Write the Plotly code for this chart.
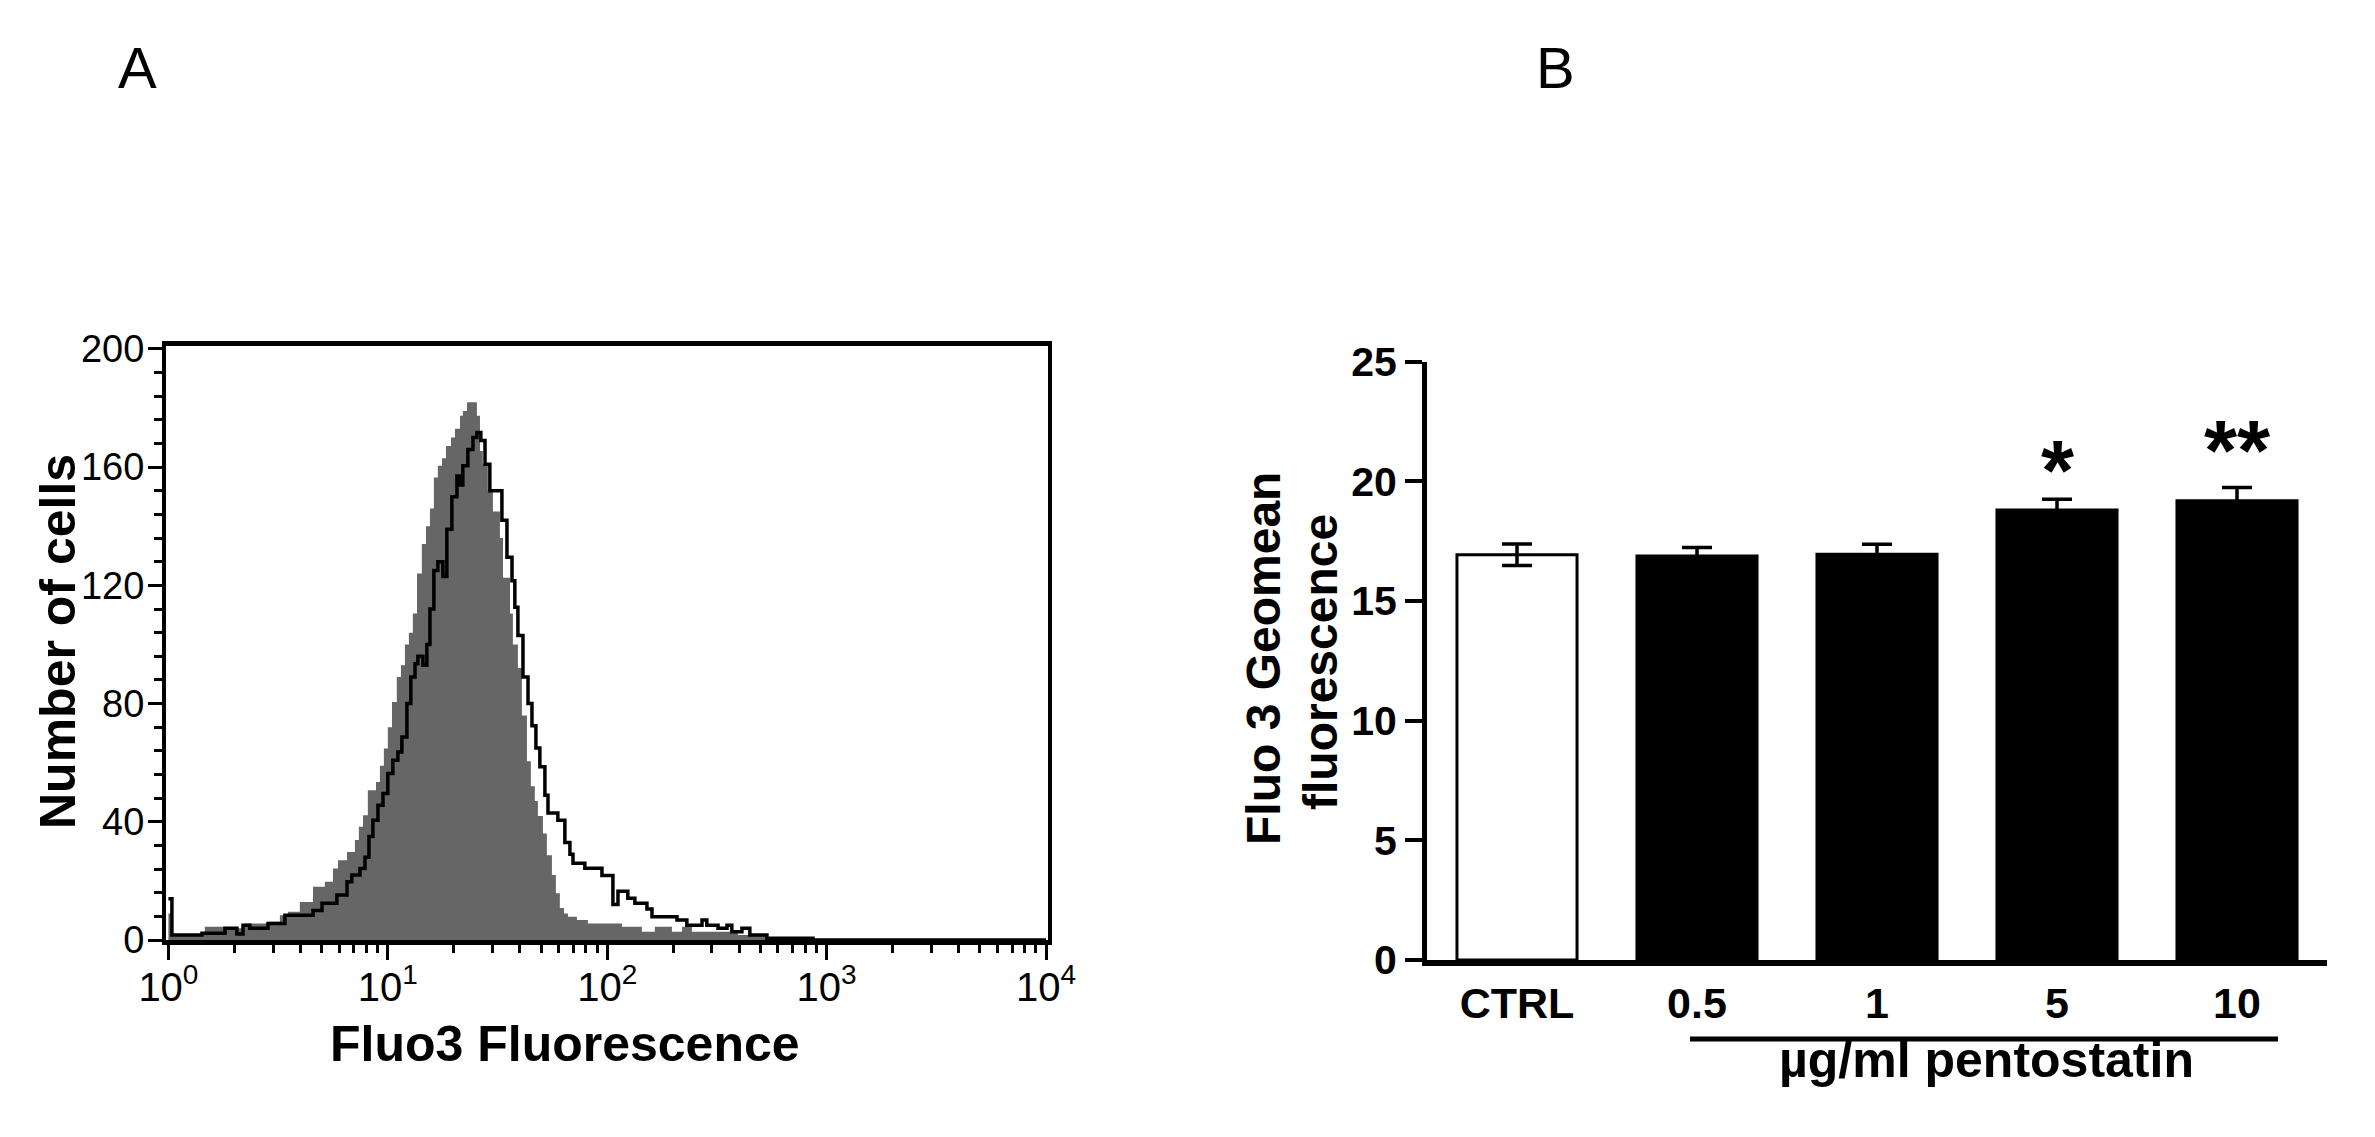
import plotly.graph_objects as go

# ---------------- Panel A: Fluo3 histograms (x in log10 fluorescence, bin starts) ----------------
gray_log10 = [0.000, 0.016, 0.166, 0.258, 0.349, 0.454, 0.508, 0.545, 0.599, 0.659,
              0.713, 0.750, 0.773, 0.814, 0.850, 0.868, 0.887, 0.909, 0.946, 0.964,
              0.982, 1.000, 1.019, 1.041, 1.060, 1.078, 1.096, 1.114, 1.133, 1.155,
              1.174, 1.192, 1.210, 1.228, 1.247, 1.265, 1.288, 1.306, 1.329, 1.342,
              1.361, 1.383, 1.406, 1.420, 1.433, 1.456, 1.479, 1.511, 1.525, 1.557,
              1.570, 1.593, 1.611, 1.634, 1.652, 1.670, 1.684, 1.707, 1.725, 1.748,
              1.766, 1.784, 1.803, 1.821, 1.862, 1.912, 2.067, 2.158, 2.217, 2.295,
              2.341, 2.386, 2.596, 2.728, 2.938, 4.000]
gray_counts = [9.0, 1.7, 4.5, 4.0, 5.6, 6.2, 8.4, 9.6, 12.9, 18.0,
               19.7, 24.2, 27.0, 29.8, 33.8, 38.3, 42.2, 50.7, 53.5, 59.0,
               64.8, 72.0, 80.5, 89.0, 93.0, 100.0, 104.0, 110.5, 124.0, 134.0,
               140.0, 146.0, 156.5, 160.5, 163.0, 167.2, 170.0, 173.0, 177.4, 179.0,
               182.0, 182.0, 177.4, 165.5, 161.0, 152.0, 145.0, 136.0, 122.6, 110.5,
               100.0, 92.0, 76.0, 60.5, 52.0, 47.0, 42.0, 36.0, 28.7, 22.0,
               15.8, 10.8, 9.0, 7.9, 6.8, 5.6, 4.5, 2.8, 4.5, 2.8,
               4.5, 2.8, 1.7, 0.8, 0.0, 0.0]

black_log10 = [0.000, 0.016, 0.153, 0.258, 0.312, 0.340, 0.371, 0.454, 0.531, 0.659,
               0.700, 0.768, 0.814, 0.836, 0.873, 0.896, 0.914, 0.932, 0.955, 0.978,
               1.000, 1.023, 1.046, 1.064, 1.087, 1.105, 1.124, 1.137, 1.160, 1.178,
               1.192, 1.210, 1.228, 1.251, 1.269, 1.292, 1.315, 1.329, 1.342, 1.365,
               1.388, 1.406, 1.424, 1.443, 1.465, 1.520, 1.543, 1.566, 1.579, 1.593,
               1.616, 1.639, 1.657, 1.675, 1.693, 1.716, 1.730, 1.775, 1.807, 1.830,
               1.844, 1.898, 1.976, 2.026, 2.049, 2.094, 2.126, 2.181, 2.204, 2.318,
               2.363, 2.432, 2.454, 2.505, 2.546, 2.568, 2.614, 2.650, 2.728, 2.938,
               4.000]
black_counts = [14.0, 1.7, 2.3, 4.0, 2.0, 5.0, 4.0, 5.6, 8.4, 10.0,
                12.4, 15.2, 19.7, 22.0, 24.2, 28.0, 35.0, 40.5, 45.6, 49.6,
                56.3, 60.8, 63.6, 68.7, 80.0, 89.0, 93.5, 96.0, 93.0, 100.0,
                112.0, 125.0, 128.0, 123.0, 139.0, 150.0, 157.0, 154.0, 160.5, 166.0,
                170.0, 171.7, 169.0, 161.0, 152.0, 142.0, 129.5, 121.6, 112.6, 103.0,
                89.0, 80.0, 72.5, 65.0, 58.6, 49.0, 43.0, 40.5, 33.0, 29.0,
                26.0, 24.3, 21.8, 12.0, 16.5, 14.1, 12.4, 10.5, 7.9, 6.8,
                5.0, 6.8, 5.0, 4.0, 5.0, 2.8, 4.0, 1.7, 0.6, 0.0,
                0.0]

x_tick_vals = [1, 10, 100, 1000, 10000]
x_tick_text = ["10<sup>0</sup>", "10<sup>1</sup>", "10<sup>2</sup>", "10<sup>3</sup>", "10<sup>4</sup>"]
y_tick_vals_a = [0, 40, 80, 120, 160, 200]

# ---------------- Panel B: Fluo 3 geomean bars ----------------
categories = ["CTRL", "0.5", "1", "5", "10"]
geomean = [16.93, 16.88, 16.95, 18.80, 19.19]
sem = [0.45, 0.36, 0.42, 0.45, 0.55]
signif = ["", "", "", "*", "**"]
y_tick_vals_b = [0, 5, 10, 15, 20, 25]

W, H = 2375, 1137
FONT = "Liberation Sans, Arial, sans-serif"


def fx(p):
    return p / W


def fy(p):
    return 1 - p / H


minor_vals = [k * 10 ** d for d in range(0, 4) for k in range(2, 10)]

fig = go.Figure()
fig.add_trace(go.Scatter(
    x=[10 ** v for v in gray_log10], y=gray_counts, mode="lines",
    line=dict(shape="hv", width=0, color="#666666"),
    fill="tozeroy", fillcolor="#666666", xaxis="x", yaxis="y",
    hoverinfo="skip", showlegend=False))
fig.add_trace(go.Scatter(
    x=[10 ** v for v in black_log10], y=black_counts, mode="lines",
    line=dict(shape="hv", width=3.5, color="black"),
    xaxis="x", yaxis="y", showlegend=False))

fig.add_trace(go.Bar(
    x=categories, y=geomean,
    error_y=dict(type="data", array=sem, color="black", thickness=3.5, width=15),
    marker=dict(color=["white", "black", "black", "black", "black"],
                line=dict(color="black", width=3)),
    width=0.667, xaxis="x2", yaxis="y2", showlegend=False))

annotations = [
    dict(text="A", x=fx(137), y=fy(67), font=dict(size=58)),
    dict(text="B", x=fx(1555), y=fy(67), font=dict(size=58)),
    dict(text="Number of cells", x=fx(58), y=fy(642), textangle=-90,
         font=dict(size=50, weight="bold")),
    dict(text="Fluo3 Fluorescence", x=fx(565), y=fy(1044),
         font=dict(size=50, weight="bold")),
    dict(text="Fluo 3 Geomean", x=fx(1263), y=fy(659), textangle=-90,
         font=dict(size=48, weight="bold")),
    dict(text="fluorescence", x=fx(1320), y=fy(662), textangle=-90,
         font=dict(size=48, weight="bold")),
    dict(text="µg/ml pentostatin", x=fx(1986), y=fy(1060),
         font=dict(size=50, weight="bold")),
]
for a in annotations:
    a.update(xref="paper", yref="paper", showarrow=False,
             xanchor="center", yanchor="middle")
    a["font"].update(family=FONT, color="black")

star_y = {"*": 20.47, "**": 21.31}
for i, s in enumerate(signif):
    if s:
        annotations.append(dict(text=s, x=i, y=star_y[s], xref="x2", yref="y2",
                                showarrow=False, xanchor="center", yanchor="middle",
                                font=dict(family=FONT, size=85, color="black", weight="bold")))

fig.update_layout(
    template="none",
    width=W, height=H,
    autosize=False,
    margin=dict(l=0, r=0, t=0, b=0, pad=0, autoexpand=False),
    paper_bgcolor="white", plot_bgcolor="white",
    font=dict(family=FONT, color="black"),
    showlegend=False,
    bargap=0.333,
    xaxis=dict(
        type="log", domain=[fx(166), fx(1048)], range=[-0.011, 4.009],
        anchor="y", automargin=False,
        tickmode="array", tickvals=x_tick_vals, ticktext=x_tick_text,
        ticks="outside", ticklen=15, tickwidth=3, tickcolor="black",
        ticklabelstandoff=-7,
        tickfont=dict(size=40, family=FONT, color="black"),
        minor=dict(tickmode="array", tickvals=minor_vals, ticks="outside",
                   ticklen=8, tickwidth=3, tickcolor="black", showgrid=False),
        showline=True, linewidth=5, linecolor="black", mirror=True,
        showgrid=False, zeroline=False),
    yaxis=dict(
        domain=[fy(940), fy(346)], range=[0, 201], anchor="x", automargin=False,
        tickmode="array", tickvals=y_tick_vals_a,
        ticks="outside", ticklen=14, tickwidth=3, tickcolor="black",
        ticklabelstandoff=-4,
        tickfont=dict(size=38, family=FONT, color="black"),
        minor=dict(tick0=0, dtick=8, ticks="outside", ticklen=8, tickwidth=3,
                   tickcolor="black", showgrid=False),
        showline=True, linewidth=4, linecolor="black", mirror=True,
        showgrid=False, zeroline=False),
    xaxis2=dict(
        type="category", domain=[fx(1427), fx(2327)], range=[-0.5, 4.5],
        anchor="y2", automargin=False,
        ticks="",
        tickfont=dict(size=43, family=FONT, color="black", weight="bold"),
        showline=True, linewidth=6, linecolor="black",
        showgrid=False, zeroline=False),
    yaxis2=dict(
        domain=[fy(960), fy(361.7)], range=[0, 25], anchor="x2", automargin=False,
        tickmode="array", tickvals=y_tick_vals_b,
        ticks="outside", ticklen=17, tickwidth=4, tickcolor="black",
        tickfont=dict(size=41, family=FONT, color="black", weight="bold"),
        showline=True, linewidth=5, linecolor="black",
        showgrid=False, zeroline=False),
    annotations=annotations,
    shapes=[dict(type="line", xref="paper", yref="paper",
                 x0=fx(1690), x1=fx(2278), y0=fy(1039), y1=fy(1039),
                 line=dict(color="black", width=5))],
)

fig.write_html("out.html",
               config={"displayModeBar": False},
               post_script="document.body.style.margin='0px';"
                           "document.body.style.overflow='hidden';")
